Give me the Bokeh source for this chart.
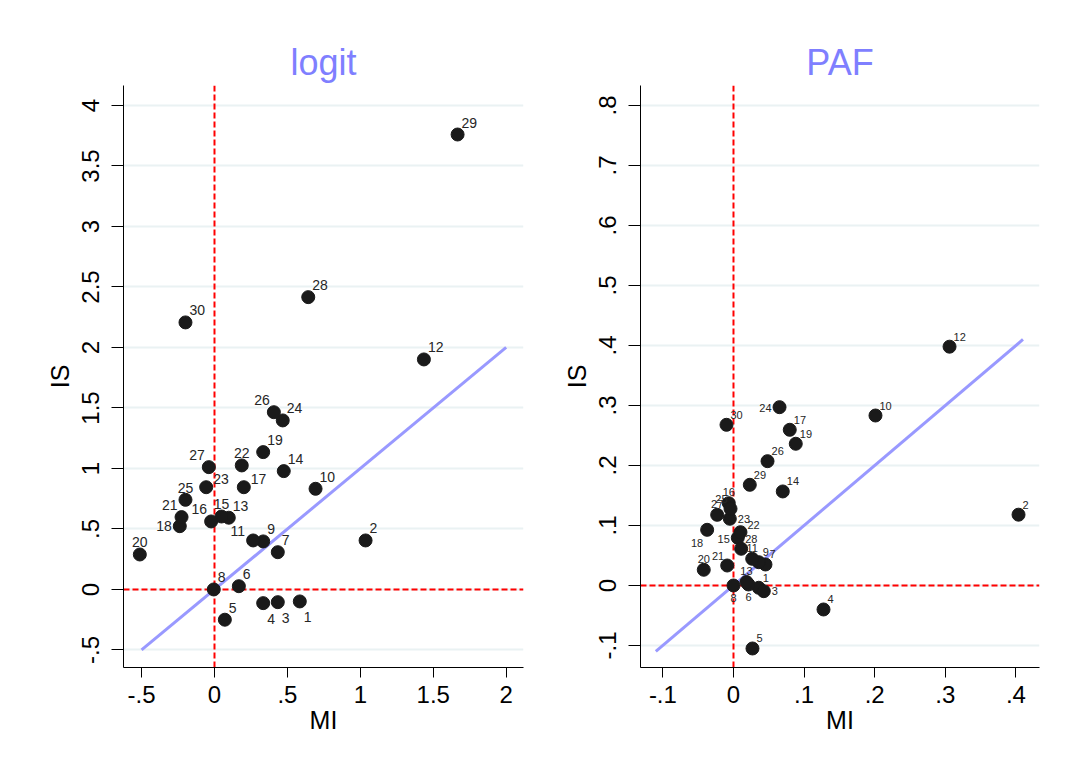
from bokeh.plotting import figure
from bokeh.layouts import row
from bokeh.models import FixedTicker, ColumnDataSource, Span, Range1d
from bokeh.core.properties import value
from bokeh.embed import file_html
from bokeh.resources import INLINE

# ---------------- data ----------------
ids = [str(i) for i in range(1, 31)]

logit_mi = [0.585, 1.036, 0.434, 0.334, 0.071, 0.167, 0.434, -0.005, 0.334, 0.693,
            0.265, 1.436, 0.098, 0.475, 0.048, -0.023, 0.201, -0.238, 0.334, -0.512,
            -0.226, 0.187, -0.057, 0.468, -0.199, 0.407, -0.039, 0.643, 1.667, -0.199]
logit_is = [-0.099, 0.405, -0.105, -0.113, -0.250, 0.027, 0.308, 0.000, 0.397, 0.832,
            0.405, 1.901, 0.593, 0.978, 0.603, 0.562, 0.845, 0.523, 1.135, 0.289,
            0.598, 1.025, 0.845, 1.397, 0.741, 1.465, 1.011, 2.416, 3.760, 2.207]
# marker-label clock positions (Stata mlabvposition)
logit_pos = [5, 1, 5, 5, 1, 1, 1, 1, 1, 1,
             10, 1, 1, 1, 12, 11, 2, 9, 1, 12,
             11, 12, 2, 1, 12, 11, 11, 1, 1, 1]

paf_mi = [0.0358, 0.4037, 0.0429, 0.1275, 0.0269, 0.0212, 0.0453, 0.0000, 0.0358, 0.2011,
          0.0265, 0.3060, 0.0184, 0.0698, 0.0061, -0.0067, 0.0797, -0.0373, 0.0882, -0.0421,
          -0.0089, 0.0099, -0.0052, 0.0652, -0.0042, 0.0482, -0.0231, 0.0109, 0.0231, -0.0099]
paf_is = [-0.0038, 0.118, -0.0095, -0.040, -0.105, 0.0017, 0.035, 0.000, 0.0388, 0.2833,
          0.0445, 0.398, 0.0058, 0.1567, 0.0795, 0.1372, 0.2595, 0.0928, 0.2362, 0.0262,
          0.0333, 0.0888, 0.1112, 0.2972, 0.1278, 0.2072, 0.1178, 0.0612, 0.1678, 0.2678]
paf_pos = [1, 1, 3, 1, 1, 6, 1, 6, 1, 1,
           12, 1, 12, 1, 9, 12, 1, 7, 1, 12,
           11, 2, 3, 9, 11, 1, 12, 1, 1, 1]

logit_xticks = [-0.5, 0, 0.5, 1, 1.5, 2]
logit_xlabels = ["-.5", "0", ".5", "1", "1.5", "2"]
logit_yticks = [-0.5, 0, 0.5, 1, 1.5, 2, 2.5, 3, 3.5, 4]
logit_ylabels = ["-.5", "0", ".5", "1", "1.5", "2", "2.5", "3", "3.5", "4"]
paf_xticks = [-0.1, 0, 0.1, 0.2, 0.3, 0.4]
paf_xlabels = ["-.1", "0", ".1", ".2", ".3", ".4"]
paf_yticks = [-0.1, 0, 0.1, 0.2, 0.3, 0.4, 0.5, 0.6, 0.7, 0.8]
paf_ylabels = ["-.1", "0", ".1", ".2", ".3", ".4", ".5", ".6", ".7", ".8"]

logit_fit = [-0.5, 2.0]     # y = x reference line
paf_fit = [-0.11, 0.41]

FONT = "Liberation Sans"

# clock position -> (dx, dy, align), screen px, dy positive = down
CLOCK_BIG = {1: (4, -12, "left"), 2: (7, -8, "left"), 3: (8, 0, "left"),
             5: (4, 16, "left"), 6: (0, 14, "center"), 7: (-4, 14, "right"),
             9: (-8, 0, "right"), 10: (-8, -9, "right"), 11: (-4, -12, "right"),
             12: (0, -12, "center")}
CLOCK_SMALL = {1: (4, -10, "left"), 2: (7, -7, "left"), 3: (8, 0, "left"),
               5: (4, 13, "left"), 6: (0, 13, "center"), 7: (-4, 13, "right"),
               9: (-8, 1, "right"), 10: (-6, -8, "right"), 11: (-3, -10, "right"),
               12: (0, -11, "center")}


def panel(title, mi, is_, pos, xt, xl, yt, yl, fit, xr, yr, width,
          mbl, mbr, clock, lab_size):
    p = figure(width=width, height=755, x_range=Range1d(*xr), y_range=Range1d(*yr),
               output_backend="svg", toolbar_location=None,
               min_border_left=mbl, min_border_right=mbr,
               min_border_top=85, min_border_bottom=88)
    p.outline_line_color = None
    p.background_fill_color = "white"
    p.border_fill_color = "white"

    p.title.text = title
    p.title.align = "center"
    p.title.text_font = FONT
    p.title.text_font_size = "36px"
    p.title.text_font_style = "normal"
    p.title.text_color = "#7f7fff"
    p.title.standoff = 5

    p.xgrid.visible = False
    p.ygrid.ticker = FixedTicker(ticks=yt)
    p.ygrid.grid_line_color = "#eaf2f3"
    p.ygrid.grid_line_width = 2

    p.xaxis.ticker = FixedTicker(ticks=xt)
    p.xaxis.major_label_overrides = dict(zip(xt, xl))
    p.yaxis.ticker = FixedTicker(ticks=yt)
    p.yaxis.major_label_overrides = dict(zip(yt, yl))
    p.yaxis.major_label_orientation = "vertical"
    p.xaxis.axis_label = "MI"
    p.yaxis.axis_label = "IS"
    for ax in (p.xaxis, p.yaxis):
        ax.axis_line_color = "black"
        ax.axis_line_width = 1
        ax.major_tick_line_color = "black"
        ax.major_tick_in = 0
        ax.minor_tick_line_color = None
        ax.major_label_text_font = FONT
        ax.major_label_text_font_size = "24px"
        ax.major_label_text_color = "black"
        ax.axis_label_text_font = FONT
        ax.axis_label_text_font_size = "25px"
        ax.axis_label_text_font_style = "normal"
        ax.axis_label_text_color = "black"
    p.xaxis.major_tick_out = 10
    p.yaxis.major_tick_out = 12
    p.xaxis.major_label_standoff = 8
    p.yaxis.major_label_standoff = 12
    p.xaxis.axis_label_standoff = 0
    p.yaxis.axis_label_standoff = 6

    p.add_layout(Span(location=0, dimension="height", line_color="red",
                      line_dash="6 3", line_width=2, level="underlay"))
    p.add_layout(Span(location=0, dimension="width", line_color="red",
                      line_dash="6 3", line_width=2, level="underlay"))

    p.line(fit, fit, line_color="#9999ff", line_width=3)

    p.scatter(mi, is_, size=13, fill_color="#1a1a1a", line_color="#1a1a1a")

    for al in ("left", "center", "right"):
        sel = [i for i in range(len(mi)) if clock[pos[i]][2] == al]
        if not sel:
            continue
        src = ColumnDataSource(dict(
            x=[mi[i] for i in sel], y=[is_[i] for i in sel],
            t=[ids[i] for i in sel],
            dx=[clock[pos[i]][0] for i in sel], dy=[clock[pos[i]][1] for i in sel]))
        p.text(x="x", y="y", text="t", x_offset="dx", y_offset="dy", source=src,
               text_align=al, text_baseline="middle",
               text_font=value(FONT), text_font_size=value(lab_size),
               text_color="#262626")
    return p


p1 = panel("logit", logit_mi, logit_is, logit_pos, logit_xticks, logit_xlabels,
           logit_yticks, logit_ylabels, logit_fit, (-0.624, 2.119), (-0.645, 4.165),
           528, 123, 5, CLOCK_BIG, "14px")
p2 = panel("PAF", paf_mi, paf_is, paf_pos, paf_xticks, paf_xlabels,
           paf_yticks, paf_ylabels, paf_fit, (-0.1317, 0.4334), (-0.1367, 0.8333),
           543, 112, 32, CLOCK_SMALL, "11px")

layout = row(p1, p2)
open("out.html", "w").write(file_html(layout, INLINE))
